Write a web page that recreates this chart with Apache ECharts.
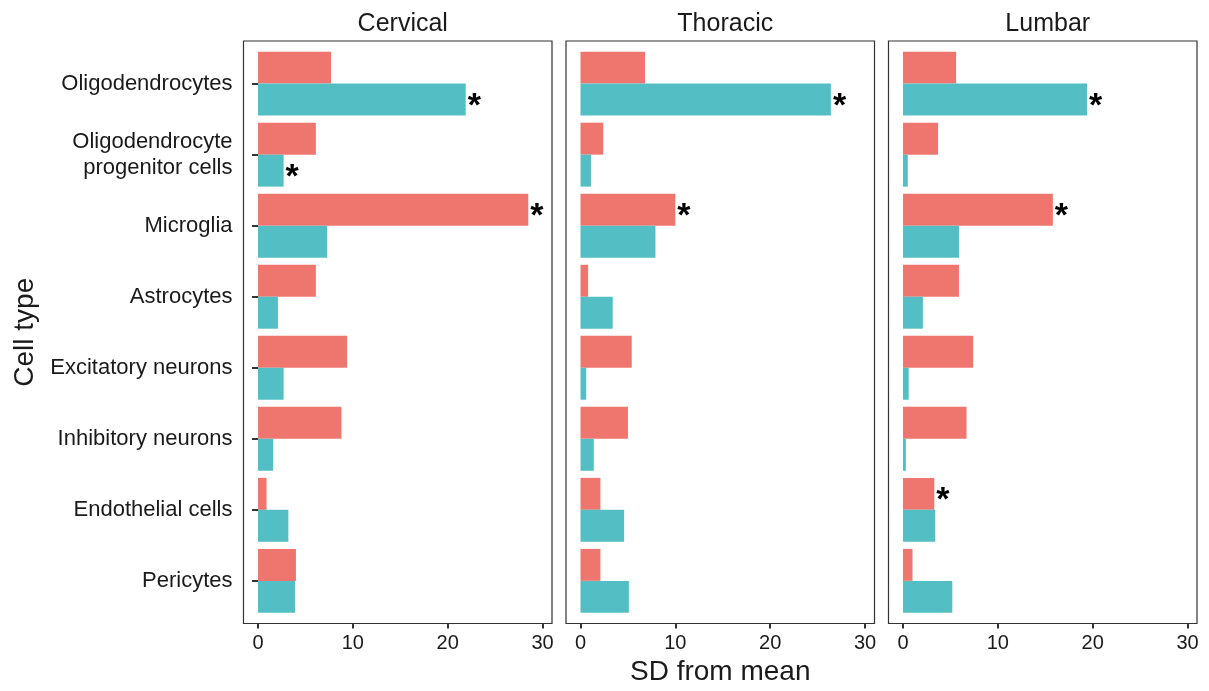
<!DOCTYPE html>
<html>
<head>
<meta charset="utf-8">
<script src="https://cdn.jsdelivr.net/npm/echarts@6/dist/echarts.min.js"></script>
<style>
  html, body { margin: 0; padding: 0; background: #fff; }
  #chart { width: 1209px; height: 691px; }
</style>
</head>
<body>
<div id="chart"></div>
<script>
// Cell types, top to bottom
const categories = [
  'Oligodendrocytes',
  'Oligodendrocyte\nprogenitor cells',
  'Microglia',
  'Astrocytes',
  'Excitatory neurons',
  'Inhibitory neurons',
  'Endothelial cells',
  'Pericytes'
];
const regions = ['Cervical', 'Thoracic', 'Lumbar'];
const xTicks = [0, 10, 20, 30];

// SD from mean, upper (red) and lower (teal) bar of each cell type
const cervicalRed   = [7.7, 6.1, 28.5, 6.1, 9.4, 8.8, 0.9, 4.0];
const cervicalTeal  = [21.9, 2.7, 7.3, 2.1, 2.7, 1.6, 3.2, 3.9];
const thoracicRed   = [6.8, 2.4, 10.0, 0.8, 5.4, 5.0, 2.1, 2.1];
const thoracicTeal  = [26.4, 1.1, 7.9, 3.4, 0.6, 1.4, 4.6, 5.1];
const lumbarRed     = [5.6, 3.7, 15.8, 5.9, 7.4, 6.7, 3.3, 1.0];
const lumbarTeal    = [19.4, 0.5, 5.9, 2.1, 0.6, 0.3, 3.4, 5.2];

// Significance marks (1 = starred)
const cervicalRedSig  = [0, 0, 1, 0, 0, 0, 0, 0];
const cervicalTealSig = [1, 1, 0, 0, 0, 0, 0, 0];
const thoracicRedSig  = [0, 0, 1, 0, 0, 0, 0, 0];
const thoracicTealSig = [1, 0, 0, 0, 0, 0, 0, 0];
const lumbarRedSig    = [0, 0, 1, 0, 0, 0, 1, 0];
const lumbarTealSig   = [1, 0, 0, 0, 0, 0, 0, 0];

const redSets  = [cervicalRed, thoracicRed, lumbarRed];
const tealSets = [cervicalTeal, thoracicTeal, lumbarTeal];
const redSigs  = [cervicalRedSig, thoracicRedSig, lumbarRedSig];
const tealSigs = [cervicalTealSig, thoracicTealSig, lumbarTealSig];

const RED = '#EF766E';
const TEAL = '#53BFC4';
const FONT = '"Liberation Sans", Arial, Helvetica, sans-serif';
const INK = '#1a1a1a';

// Panel geometry
const panelLefts = [243.5, 566, 888.5];
const panelWidth = 308.5;
const frameTop = 41;
const frameHeight = 582.5;
const unit = frameHeight / (categories.length + 0.2);   // discrete axis padded by 0.6 per side
const dataTop = frameTop + 0.1 * unit;
const dataHeight = unit * categories.length;
const xMin = -1.53, xMax = 31.0;

const grids = [], xAxes = [], yAxes = [], series = [], titles = [];

function starData(values, sig) {
  return values.map((v, i) => sig[i]
    ? { value: v, label: { show: true } }
    : v);
}

regions.forEach((name, i) => {
  const left = panelLefts[i];
  // framed panel carrying the bottom axis
  grids.push({
    left: left, top: frameTop, width: panelWidth, height: frameHeight,
    show: true, borderColor: '#333', borderWidth: 1.2, backgroundColor: 'transparent',
    outerBoundsMode: 'none'
  });
  // plotting area for the bars
  grids.push({
    left: left, top: dataTop, width: panelWidth, height: dataHeight,
    show: false, outerBoundsMode: 'none'
  });
  const fg = 2 * i, dg = 2 * i + 1;

  xAxes.push({
    gridIndex: fg, type: 'value', min: xMin, max: xMax,
    axisLine: { show: false },
    splitLine: { show: false },
    axisTick: { show: true, length: 5, customValues: xTicks, lineStyle: { color: '#333', width: 2 } },
    axisLabel: { show: true, customValues: xTicks, fontSize: 20, color: INK, fontFamily: FONT, margin: 10 },
    name: i === 1 ? 'SD from mean' : '',
    nameLocation: 'middle', nameGap: 34,
    nameTextStyle: { fontSize: 28, color: INK, fontFamily: FONT }
  });
  yAxes.push({
    gridIndex: fg, type: 'value', min: 0, max: 1, show: false
  });

  xAxes.push({
    gridIndex: dg, type: 'value', min: xMin, max: xMax, show: false
  });
  yAxes.push({
    gridIndex: dg, type: 'category', inverse: true, data: categories,
    axisLine: { show: false },
    splitLine: { show: false },
    axisTick: { show: i === 0, alignWithLabel: true, length: 6, lineStyle: { color: '#333', width: 2 } },
    axisLabel: {
      show: i === 0, fontSize: 22, color: INK, fontFamily: FONT, margin: 11,
      lineHeight: 26, align: 'right'
    },
    name: i === 0 ? 'Cell type' : '',
    nameLocation: 'middle', nameGap: 204, nameRotate: 90,
    nameTextStyle: { fontSize: 28, color: INK, fontFamily: FONT }
  });

  const starLabel = {
    show: false, position: 'right', distance: 2, formatter: '*',
    fontSize: 34, fontWeight: 'bold', color: '#000', fontFamily: FONT,
    offset: [0, 7]
  };
  series.push({
    name: 'Set 1 ' + name, type: 'bar', xAxisIndex: xAxes.length - 1, yAxisIndex: yAxes.length - 1,
    data: starData(redSets[i], redSigs[i]),
    barWidth: '45%', barGap: '0%',
    itemStyle: { color: RED },
    label: starLabel, silent: true
  });
  series.push({
    name: 'Set 2 ' + name, type: 'bar', xAxisIndex: xAxes.length - 1, yAxisIndex: yAxes.length - 1,
    data: starData(tealSets[i], tealSigs[i]),
    barWidth: '45%', barGap: '0%',
    itemStyle: { color: TEAL },
    label: starLabel, silent: true
  });

  titles.push({
    text: name, left: left + panelWidth / 2, top: 7, textAlign: 'center',
    textStyle: { fontSize: 25, fontWeight: 'normal', color: INK, fontFamily: FONT }
  });
});

const chart = echarts.init(document.getElementById('chart'), null, { renderer: 'canvas' });
chart.setOption({
  animation: false,
  backgroundColor: '#fff',
  title: titles,
  grid: grids,
  xAxis: xAxes,
  yAxis: yAxes,
  series: series
});
</script>
</body>
</html>
